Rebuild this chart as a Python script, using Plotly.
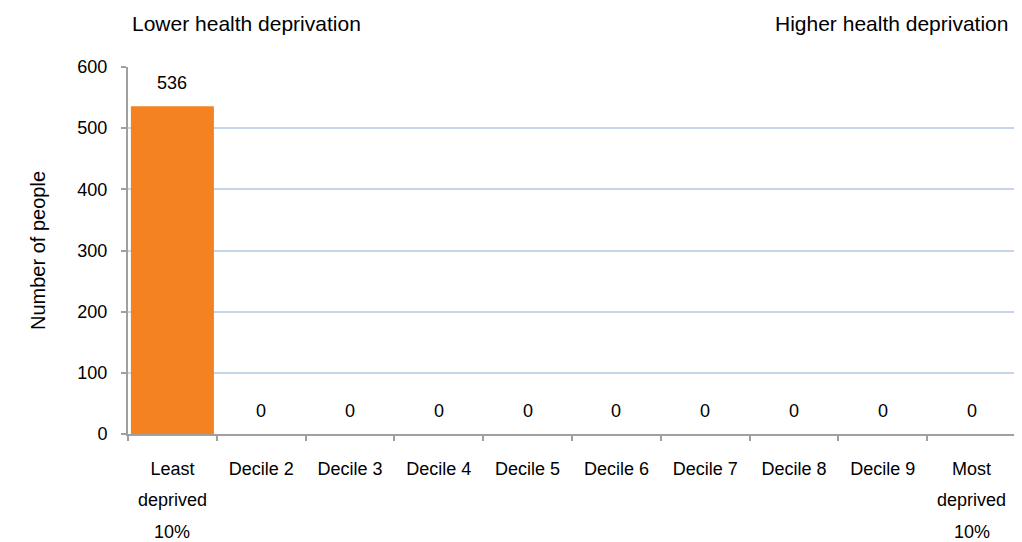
import plotly.graph_objects as go

categories = ["Least deprived 10%", "Decile 2", "Decile 3", "Decile 4", "Decile 5",
              "Decile 6", "Decile 7", "Decile 8", "Decile 9", "Most deprived 10%"]
tick_first_lines = ["Least", "Decile 2", "Decile 3", "Decile 4", "Decile 5",
                    "Decile 6", "Decile 7", "Decile 8", "Decile 9", "Most"]
extra_lines = {"Least deprived 10%": ["deprived", "10%"],
               "Most deprived 10%": ["deprived", "10%"]}
values = [536, 0, 0, 0, 0, 0, 0, 0, 0, 0]
y_ticks = [0, 100, 200, 300, 400, 500, 600]

FONT = "Liberation Sans, Arial, sans-serif"
# page body has an 8px default margin
W, H = 1014, 534
ml, mr, mt, mb = 120, 6, 59, 108
plot_h = H - mt - mb

fig = go.Figure()
fig.add_trace(go.Bar(x=categories, y=values, marker=dict(color="#F58220", line=dict(width=0)),
                     hoverinfo="x+y"))

annotations = []
for c, v in zip(categories, values):
    annotations.append(dict(x=c, y=v, xref="x", yref="y", text=str(v), showarrow=False,
                            yanchor="bottom", yshift=11, font=dict(family=FONT, size=18, color="#000")))
for c, lines in extra_lines.items():
    for i, t in enumerate(lines):
        annotations.append(dict(x=c, y=0, xref="x", yref="y", text=t, showarrow=False,
                                yanchor="middle", yshift=-(66 + 32 * i),
                                font=dict(family=FONT, size=18, color="#000")))
top_y = 1 + (mt - 15) / plot_h
annotations.append(dict(x=0, xref="paper", y=top_y, yref="paper",
                        text="Lower health deprivation", showarrow=False,
                        xanchor="left", yanchor="middle", xshift=2,
                        font=dict(family=FONT, size=21, color="#000")))
annotations.append(dict(x=1, xref="paper", y=top_y, yref="paper",
                        text="Higher health deprivation", showarrow=False,
                        xanchor="right", yanchor="middle", xshift=-6,
                        font=dict(family=FONT, size=21, color="#000")))

fig.update_layout(
    width=W, height=H,
    margin=dict(l=ml, r=mr, t=mt, b=mb, pad=0),
    paper_bgcolor="white", plot_bgcolor="white",
    bargap=0.065,
    showlegend=False,
    font=dict(family=FONT, size=18, color="#000"),
    annotations=annotations,
    xaxis=dict(
        type="category",
        tickmode="array", tickvals=categories, ticktext=tick_first_lines,
        tickson="boundaries", ticks="outside", ticklen=5, tickcolor="#A0A0A0", tickwidth=2,
        showline=True, linecolor="#A0A0A0", linewidth=2,
        showgrid=False, zeroline=False,
        tickfont=dict(family=FONT, size=18, color="#000"),
        ticklabelstandoff=17,
    ),
    yaxis=dict(
        range=[0, 600],
        tickmode="array", tickvals=y_ticks,
        ticks="outside", ticklen=5, tickcolor="#A0A0A0", tickwidth=2,
        showline=True, linecolor="#A0A0A0", linewidth=2,
        showgrid=True, gridcolor="#C6D6EA", gridwidth=1.5,
        zeroline=False,
        tickfont=dict(family=FONT, size=18, color="#000"),
        ticklabelstandoff=10,
        title=dict(text="Number of people", font=dict(family=FONT, size=20, color="#000"), standoff=26),
    ),
)

fig.write_html("out.html")
